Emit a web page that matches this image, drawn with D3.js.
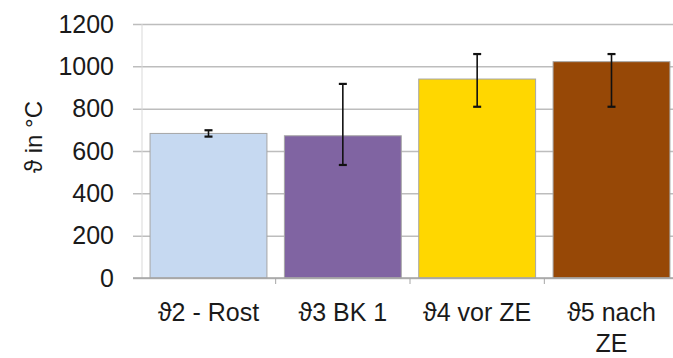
<!DOCTYPE html>
<html>
<head>
<meta charset="utf-8">
<script src="https://cdn.jsdelivr.net/npm/d3@7"></script>
<style>
  body { margin: 0; background: #fff; }
  text { font-family: "Liberation Sans", Arial, sans-serif; fill: #1a1a1a; }
</style>
</head>
<body>
<div id="grafico"></div>
<script>
const categories = ["ϑ2 - Rost", "ϑ3 BK 1", "ϑ4 vor ZE", "ϑ5 nach ZE"];
const means      = [683, 672, 940, 1022];
const errLow     = [668, 534, 809, 809];
const errHigh    = [698, 917, 1058, 1058];
const colors     = ["#c6d9f1", "#8064a2", "#ffd700", "#974806"];
const yTicks     = [0, 200, 400, 600, 800, 1000, 1200];

const width  = 673;
const height = 358;
const margin = { top: 24, left: 142, bottom: 80, right: -5 };

const svg = d3.select("#grafico")
              .append("svg")
              .attr("width", width)
              .attr("height", height);

const xScale = d3.scaleBand()
                 .domain(categories)
                 .range([margin.left, width - margin.right])
                 .paddingInner(0.13)
                 .paddingOuter(0.06);

const yScale = d3.scaleLinear()
                 .domain([0, 1200])
                 .range([height - margin.bottom, margin.top]);

// gridlines + y labels
const yAxis = d3.axisLeft(yScale)
                .tickValues(yTicks)
                .tickFormat(d3.format("d"))
                .tickSize(-(width - margin.left + 10))
                .tickPadding(20);

svg.append("g")
   .attr("transform", `translate(${margin.left - 9}, 0)`)
   .call(yAxis)
   .call(g => g.select(".domain").remove())
   .call(g => g.selectAll(".tick line").attr("stroke", "#bdbdbd").attr("stroke-width", 1.5))
   .call(g => g.selectAll(".tick text")
               .attr("x", -19)
               .attr("font-size", "25px")
               .attr("fill", "#1a1a1a"));

// vertical axis line
svg.append("line")
   .attr("x1", margin.left).attr("x2", margin.left)
   .attr("y1", yScale(1200)).attr("y2", yScale(0))
   .attr("stroke", "#d9d9d9");

// bars
svg.append("g")
   .selectAll("rect")
   .data(categories)
   .join("rect")
   .attr("x", d => xScale(d))
   .attr("y", (d, i) => yScale(means[i]))
   .attr("width", xScale.bandwidth())
   .attr("height", (d, i) => yScale(0) - yScale(means[i]))
   .attr("fill", (d, i) => colors[i])
   .attr("stroke", "#a6a6a6")
   .attr("stroke-width", 1);

// x axis
const step = xScale.step();
svg.append("line")
   .attr("x1", margin.left - 9).attr("x2", width)
   .attr("y1", yScale(0)).attr("y2", yScale(0))
   .attr("stroke", "#a6a6a6")
   .attr("stroke-width", 1.5);

svg.append("g")
   .selectAll("line")
   .data(categories.slice(1))
   .join("line")
   .attr("x1", d => xScale(d) - step * 0.065)
   .attr("x2", d => xScale(d) - step * 0.065)
   .attr("y1", yScale(0))
   .attr("y2", yScale(0) + 6)
   .attr("stroke", "#a6a6a6");

// error bars
const err = svg.append("g").attr("stroke", "#111").attr("stroke-width", 1.6);
categories.forEach((c, i) => {
  const cx = xScale(c) + xScale.bandwidth() / 2;
  err.append("line")
     .attr("x1", cx).attr("x2", cx)
     .attr("y1", yScale(errLow[i])).attr("y2", yScale(errHigh[i]));
  [errLow[i], errHigh[i]].forEach(v => {
    err.append("line")
       .attr("x1", cx - 4).attr("x2", cx + 4)
       .attr("y1", yScale(v)).attr("y2", yScale(v))
       .attr("stroke-width", 2.2);
  });
});

// category labels
const labelLines = [["ϑ2 - Rost"], ["ϑ3 BK 1"], ["ϑ4 vor ZE"], ["ϑ5 nach", "ZE"]];
svg.append("g")
   .selectAll("text")
   .data(categories)
   .join("text")
   .attr("font-size", "25px")
   .attr("text-anchor", "middle")
   .each(function(d, i) {
     const cx = xScale(d) + xScale.bandwidth() / 2;
     labelLines[i].forEach((t, j) => {
       d3.select(this).append("tspan")
         .attr("x", cx)
         .attr("y", 321 + j * 31)
         .text(t);
     });
   });

// y axis title
svg.append("text")
   .attr("transform", `translate(42, ${(yScale(0) + yScale(1200)) / 2 - 14}) rotate(-90)`)
   .attr("font-size", "24px")
   .style("text-anchor", "middle")
   .text("ϑ in °C");
</script>
</body>
</html>
